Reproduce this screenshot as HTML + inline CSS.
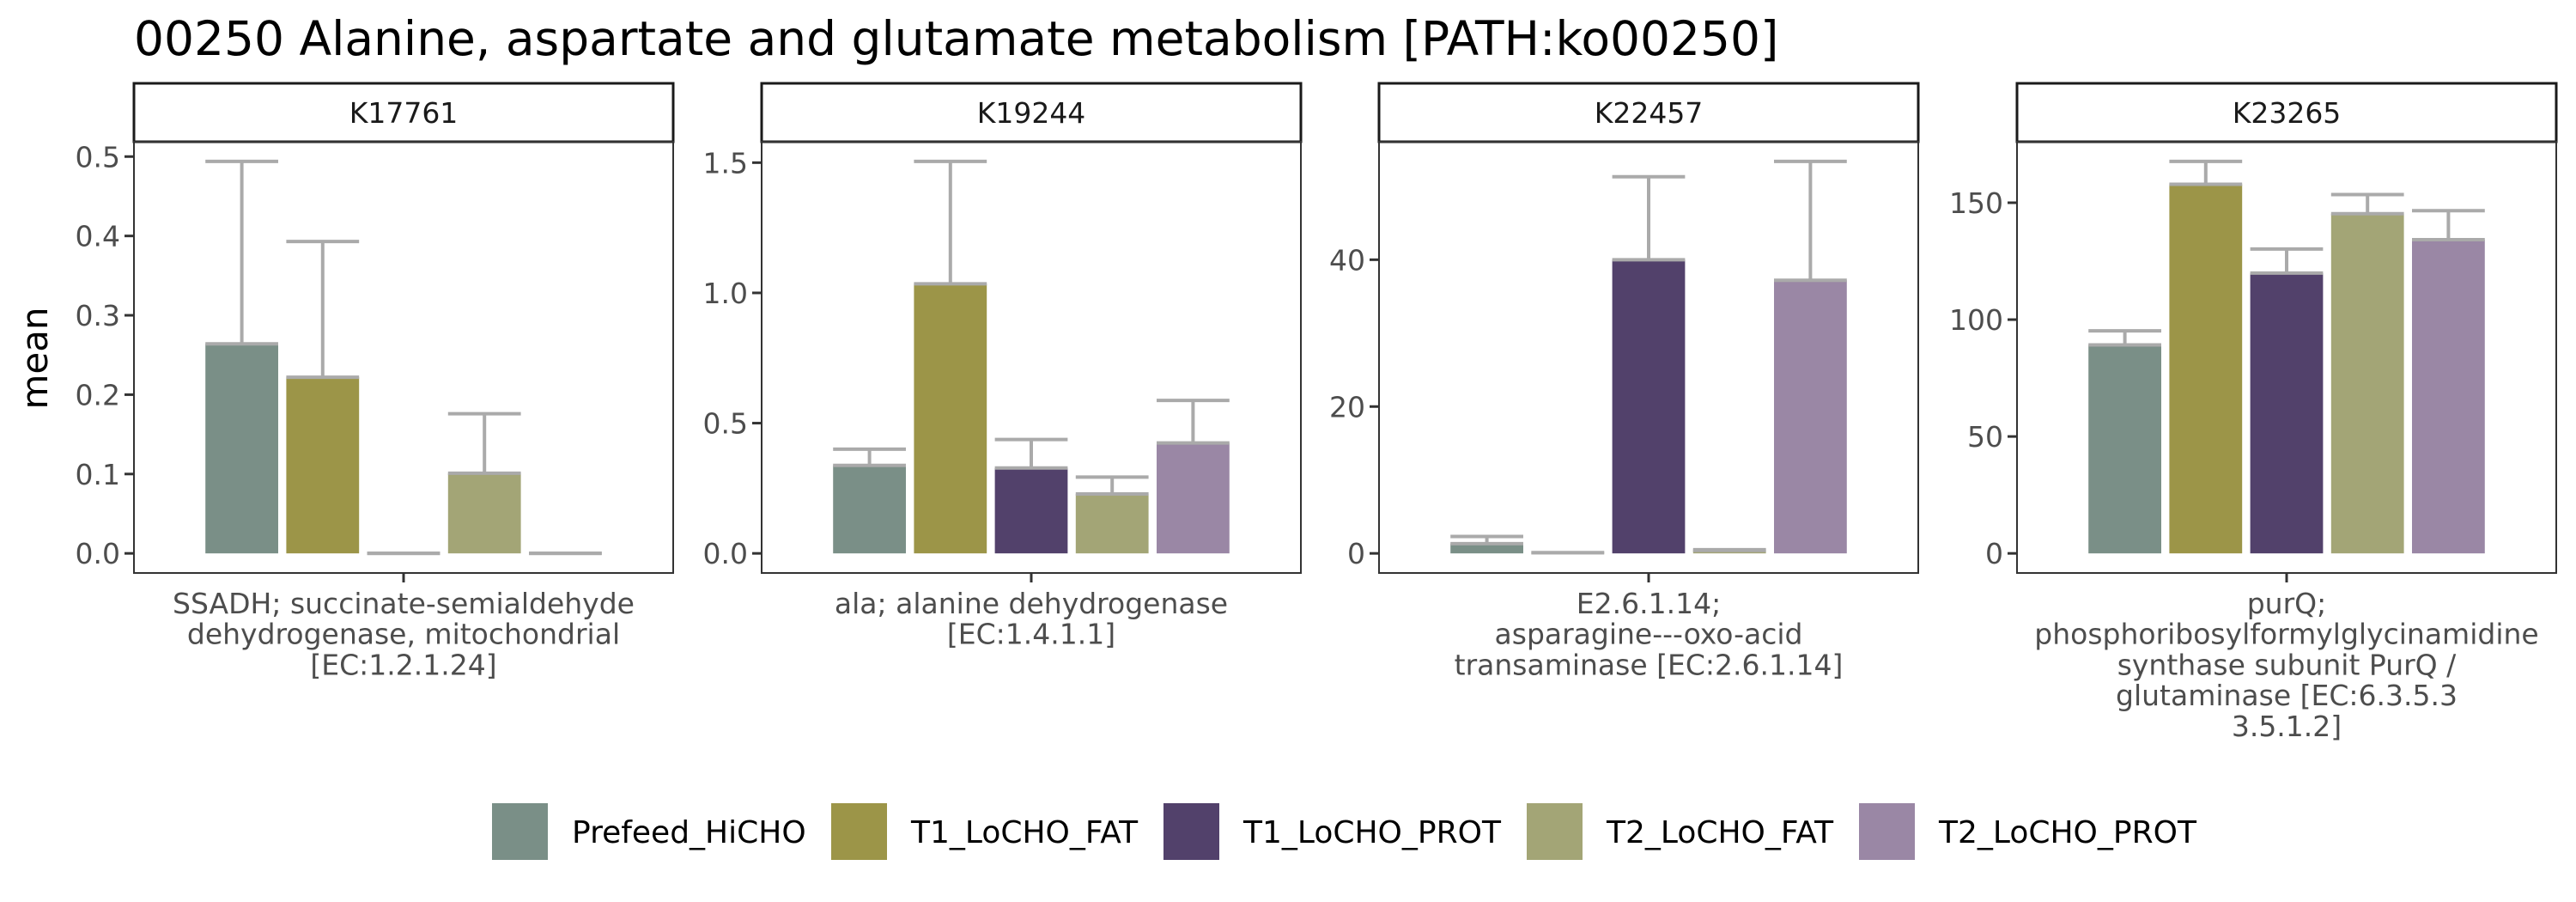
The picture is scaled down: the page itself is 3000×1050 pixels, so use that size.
<!DOCTYPE html>
<html><head><meta charset="utf-8">
<style>
html,body{margin:0;padding:0;background:#fff;}
svg{display:block;font-family:"DejaVu Sans","Liberation Sans",sans-serif;}
</style></head>
<body>
<svg id="chart" width="3000" height="1050" viewBox="0 0 3000 1050" xmlns="http://www.w3.org/2000/svg">
<rect x="0" y="0" width="3000" height="1050" fill="#fff"/>
<text x="156" y="64" font-size="55" fill="#000">00250 Alanine, aspartate and glutamate metabolism [PATH:ko00250]</text>
<text transform="translate(55,417) rotate(-90)" text-anchor="middle" font-size="42" fill="#000">mean</text>
<g id="panels"></g>
<g id="legend"></g>
</svg>
<script>
const groups = ["Prefeed_HiCHO","T1_LoCHO_FAT","T1_LoCHO_PROT","T2_LoCHO_FAT","T2_LoCHO_PROT"];
const colors = ["#7a8f87","#9c9548","#52416b","#a3a576","#9a87a5"];
const facetNames = ["K17761","K19244","K22457","K23265"];
const facetLabels = [
  ["SSADH; succinate-semialdehyde","dehydrogenase, mitochondrial","[EC:1.2.1.24]"],
  ["ala; alanine dehydrogenase","[EC:1.4.1.1]"],
  ["E2.6.1.14;","asparagine---oxo-acid","transaminase [EC:2.6.1.14]"],
  ["purQ;","phosphoribosylformylglycinamidine","synthase subunit PurQ /","glutaminase [EC:6.3.5.3","3.5.1.2]"]
];
const meansK17761 = [0.264, 0.222, 0, 0.101, 0];
const errTopK17761 = [0.494, 0.393, 0, 0.176, 0];
const meansK19244 = [0.338, 1.035, 0.328, 0.228, 0.424];
const errTopK19244 = [0.40, 1.505, 0.437, 0.293, 0.587];
const meansK22457 = [1.33, 0.1, 40.0, 0.4, 37.2];
const errTopK22457 = [2.3, 0.1, 51.3, 0.5, 53.4];
const meansK23265 = [89.2, 157.9, 119.9, 145.3, 134.2];
const errTopK23265 = [95.2, 167.7, 130.2, 153.5, 146.6];
const ticksK17761 = [0, 0.1, 0.2, 0.3, 0.4, 0.5];
const ticksK19244 = [0, 0.5, 1.0, 1.5];
const ticksK22457 = [0, 20, 40];
const ticksK23265 = [0, 50, 100, 150];
const tickDigits = [1, 1, 0, 0];

const allMeans = [meansK17761, meansK19244, meansK22457, meansK23265];
const allErr = [errTopK17761, errTopK19244, errTopK22457, errTopK23265];
const allTicks = [ticksK17761, ticksK19244, ticksK22457, ticksK23265];

const NS = "http://www.w3.org/2000/svg";
function mk(tag, attrs, parent) {
  const e = document.createElementNS(NS, tag);
  for (const k in attrs) e.setAttribute(k, attrs[k]);
  parent.appendChild(e);
  return e;
}
const panelLefts = [156, 887, 1606, 2349];
const panelW = 628;
const stripTop = 97, stripBot = 165, plotTop = 165, plotBot = 667;
const panelsG = document.getElementById("panels");

facetNames.forEach((name, f) => {
  const g = mk("g", {}, panelsG);
  
  
  const L = panelLefts[f], R = L + panelW, cx = (L + R) / 2;
  const means = allMeans[f], errs = allErr[f];
  const M = Math.max(...errs, ...means);
  const lo = -0.05 * M, hi = 1.05 * M;
  const y = v => plotBot - (v - lo) / (hi - lo) * (plotBot - plotTop);
  const strip = mk("rect", {x: L, y: stripTop, width: panelW, height: stripBot - stripTop, fill: "#fff", stroke: "#1a1a1a", "stroke-width": 3}, g);
  
  
  const st = mk("text", {x: cx, y: (stripTop + stripBot) / 2 + 12, "text-anchor": "middle", "font-size": 33, fill: "#1a1a1a"}, g);
  st.textContent = name;
  
  
  allTicks[f].forEach(t => {
    const ty = y(t);
    const tk = mk("line", {x1: L - 11, x2: L, y1: ty, y2: ty, stroke: "#333", "stroke-width": 3}, g);
    
    
    const tl = mk("text", {x: L - 16, y: ty + 12, "text-anchor": "end", "font-size": 33, fill: "#4d4d4d"}, g);
    tl.textContent = t.toFixed(tickDigits[f]);
    
    
  });
  const slot = 0.9 * panelW / 1.2 / 5, bw = slot * 0.9;
  means.forEach((m, i) => {
    const bx = cx + (i - 2) * slot;
    const b = mk("rect", {x: bx - bw / 2, y: Math.min(y(m), y(0)), width: bw, height: Math.abs(y(0) - y(m)), fill: colors[i]}, g);
    
    
    const eg = mk("g", {stroke: "#aaaaaa", "stroke-width": 4, fill: "none"}, g);
    
    
    mk("line", {x1: bx, x2: bx, y1: y(m), y2: y(errs[i])}, eg);
    mk("line", {x1: bx - bw / 2, x2: bx + bw / 2, y1: y(m), y2: y(m)}, eg);
    mk("line", {x1: bx - bw / 2, x2: bx + bw / 2, y1: y(errs[i]), y2: y(errs[i])}, eg);
  });
  const pb = mk("rect", {x: L, y: plotTop, width: panelW, height: plotBot - plotTop, fill: "none", stroke: "#333", "stroke-width": 2}, g);
  
  
  const xt = mk("line", {x1: cx, x2: cx, y1: plotBot, y2: plotBot + 11, stroke: "#333", "stroke-width": 3}, g);
  
  
  facetLabels[f].forEach((ln, k) => {
    const t = mk("text", {x: cx, y: 714 + k * 35.7, "text-anchor": "middle", "font-size": 33, fill: "#4d4d4d"}, g);
    t.textContent = ln;
    
    
  });
});

const legG = document.getElementById("legend");


const keyX = [573, 968, 1355, 1778, 2165];
groups.forEach((gname, i) => {
  const eg = mk("g", {}, legG);
  
  
  mk("rect", {x: keyX[i], y: 935, width: 65, height: 66, fill: colors[i]}, eg);
  const t = mk("text", {x: keyX[i] + 93, y: 981, "font-size": 36, fill: "#000"}, eg);
  t.textContent = gname;
});
</script>
</body></html>
